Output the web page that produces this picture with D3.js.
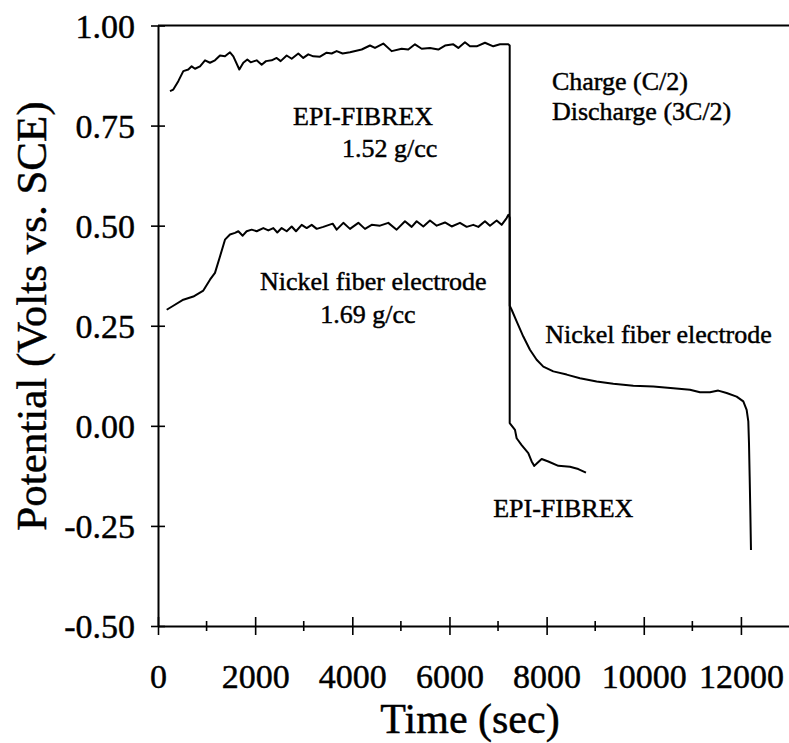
<!DOCTYPE html>
<html>
<head>
<meta charset="utf-8">
<script src="https://cdn.jsdelivr.net/npm/d3@7"></script>
<style>
  html, body { margin: 0; padding: 0; background: #fff; }
  svg text { font-family: "Liberation Serif", "Times New Roman", serif; fill: #000; stroke: #000; stroke-width: 0.45px; }
</style>
</head>
<body>
<svg id="chart" width="789" height="743"></svg>
<script>
// ---- data ----
const xTickValues = [0, 2000, 4000, 6000, 8000, 10000, 12000];
const xMinorTicks = [1000, 3000, 5000, 7000, 9000, 11000];
const yTickValues = [-0.5, -0.25, 0, 0.25, 0.5, 0.75, 1.0];
const yTickLabels = ["-0.50", "-0.25", "0.00", "0.25", "0.50", "0.75", "1.00"];

// EPI-FIBREX (1.52 g/cc): charge then discharge
const epiTime = [247, 315, 418, 521, 624, 693, 762, 865, 968, 1070, 1173, 1276, 1379, 1482, 1551, 1674, 1756, 1839, 1908, 2031, 2134, 2223, 2340, 2443, 2525, 2649, 2752, 2888, 2991, 3094, 3197, 3335, 3472, 3575, 3678, 3800, 3952, 4193, 4364, 4467, 4638, 4810, 5016, 5152, 5290, 5428, 5599, 5770, 5908, 6079, 6182, 6319, 6422, 6560, 6731, 6902, 7040, 7211, 7240,
  7240, 7349, 7383, 7486, 7623, 7692, 7746, 7808, 7898, 8035, 8241, 8481, 8652, 8810];
const epiVolt = [0.836, 0.84, 0.861, 0.886, 0.89, 0.898, 0.892, 0.898, 0.913, 0.907, 0.913, 0.925, 0.923, 0.933, 0.923, 0.89, 0.907, 0.915, 0.908, 0.913, 0.902, 0.911, 0.913, 0.919, 0.911, 0.925, 0.917, 0.93, 0.919, 0.928, 0.923, 0.922, 0.932, 0.93, 0.936, 0.930, 0.933, 0.94, 0.95, 0.944, 0.955, 0.936, 0.942, 0.94, 0.953, 0.942, 0.944, 0.94, 0.95, 0.953, 0.944, 0.958, 0.948, 0.948, 0.957, 0.948, 0.953, 0.953, 0.95,
  0.007, -0.01, -0.031, -0.048, -0.068, -0.089, -0.10, -0.093, -0.083, -0.089, -0.10, -0.102, -0.108, -0.117];

// Nickel fiber electrode (1.69 g/cc): charge then discharge
const nickelTime = [179, 315, 521, 727, 933, 1070, 1173, 1276, 1379, 1482, 1585, 1654, 1743, 1825, 1928, 2031, 2168, 2271, 2374, 2456, 2546, 2649, 2752, 2841, 2958, 3061, 3164, 3267, 3403, 3596, 3678, 3815, 3952, 4124, 4261, 4399, 4570, 4741, 4913, 5084, 5222, 5325, 5462, 5599, 5737, 5908, 6045, 6216, 6354, 6490, 6594, 6731, 6834, 6971, 7074, 7177, 7211, 7240,
  7240, 7280, 7383, 7520, 7657, 7795, 7932, 8138, 8413, 8687, 9030, 9373, 9785, 10196, 10608, 10951, 11157, 11363, 11534, 11706, 11912, 12049, 12118, 12152, 12166, 12180, 12193, 12207];
const nickelVolt = [0.29, 0.30, 0.315, 0.323, 0.338, 0.365, 0.382, 0.423, 0.465, 0.478, 0.482, 0.486, 0.475, 0.486, 0.49, 0.486, 0.494, 0.488, 0.494, 0.483, 0.494, 0.486, 0.498, 0.486, 0.502, 0.494, 0.502, 0.492, 0.497, 0.505, 0.49, 0.507, 0.492, 0.507, 0.492, 0.502, 0.50, 0.507, 0.49, 0.511, 0.497, 0.511, 0.498, 0.513, 0.50, 0.508, 0.498, 0.507, 0.497, 0.502, 0.497, 0.511, 0.50, 0.513, 0.502, 0.519, 0.527, 0.52,
  0.30, 0.29, 0.261, 0.223, 0.19, 0.165, 0.148, 0.136, 0.128, 0.119, 0.111, 0.105, 0.10, 0.098, 0.094, 0.09, 0.084, 0.084, 0.088, 0.082, 0.073, 0.061, 0.04, 0.011, -0.043, -0.127, -0.21, -0.31];

const annotations = [
  { text: "EPI-FIBREX", t: 2780, v: 0.752 },
  { text: "1.52 g/cc", t: 3790, v: 0.672 },
  { text: "Charge (C/2)", t: 8110, v: 0.84 },
  { text: "Discharge (3C/2)", t: 8110, v: 0.765 },
  { text: "Nickel fiber electrode", t: 2100, v: 0.34 },
  { text: "1.69 g/cc", t: 3340, v: 0.258 },
  { text: "Nickel fiber electrode", t: 7970, v: 0.207 },
  { text: "EPI-FIBREX", t: 6900, v: -0.228 }
];

// ---- drawing ----
const svg = d3.select("#chart");
const x = d3.scaleLinear().domain([0, 13000]).range([158, 789.5]);
const y = d3.scaleLinear().domain([-0.5, 1.0]).range([626, 25.5]);

// frame: top line
svg.append("line")
  .attr("x1", x(0)).attr("x2", x(13000))
  .attr("y1", y(1.0)).attr("y2", y(1.0))
  .attr("stroke", "#000").attr("stroke-width", 2);

// y axis
const yAxis = d3.axisLeft(y).tickValues(yTickValues)
  .tickFormat((d, i) => yTickLabels[i]).tickSizeOuter(0);
const gy = svg.append("g").attr("transform", `translate(${x(0)},0)`).call(yAxis);
gy.select(".domain").attr("stroke", "#000").attr("stroke-width", 2);
gy.selectAll(".tick line").attr("x1", -7).attr("x2", 7).attr("stroke-width", 1.6);
gy.selectAll(".tick text").attr("x", -23).attr("dy", "0.34em")
  .style("font-size", "34px").style("font-family", "Liberation Serif");

// x axis
const xAxis = d3.axisBottom(x).tickValues(xTickValues).tickFormat(d3.format("d")).tickSizeOuter(0);
const gx = svg.append("g").attr("transform", `translate(0,${y(-0.5)})`).call(xAxis);
gx.select(".domain").attr("stroke", "#000").attr("stroke-width", 2);
gx.selectAll(".tick line").attr("y1", -9).attr("y2", 9).attr("stroke-width", 1.6);
gx.selectAll(".tick text").attr("y", 62).attr("dy", 0)
  .style("font-size", "34px").style("font-family", "Liberation Serif");

// minor x ticks
svg.append("g").selectAll("line").data(xMinorTicks).join("line")
  .attr("x1", d => x(d)).attr("x2", d => x(d))
  .attr("y1", y(-0.5) - 5).attr("y2", y(-0.5) + 5)
  .attr("stroke", "#000").attr("stroke-width", 1.6);

// axis titles
svg.append("text").attr("x", 470).attr("y", 733).attr("text-anchor", "middle")
  .style("font-size", "42px").text("Time (sec)");
svg.append("text").attr("transform", "translate(46,316) rotate(-90)")
  .attr("text-anchor", "middle").style("font-size", "43px")
  .text("Potential (Volts vs. SCE)");

// curves
const line = d3.line().x(d => x(d[0])).y(d => y(d[1]));
const epiData = epiTime.map((t, i) => [t, epiVolt[i]]);
const nickelData = nickelTime.map((t, i) => [t, nickelVolt[i]]);
[epiData, nickelData].forEach(data => {
  svg.append("path").datum(data).attr("d", line)
    .attr("fill", "none").attr("stroke", "#000")
    .attr("stroke-width", 2).attr("stroke-linejoin", "round");
});

// annotations
svg.append("g").selectAll("text").data(annotations).join("text")
  .attr("x", d => x(d.t)).attr("y", d => y(d.v))
  .style("font-size", "26px").text(d => d.text);
</script>
</body>
</html>
